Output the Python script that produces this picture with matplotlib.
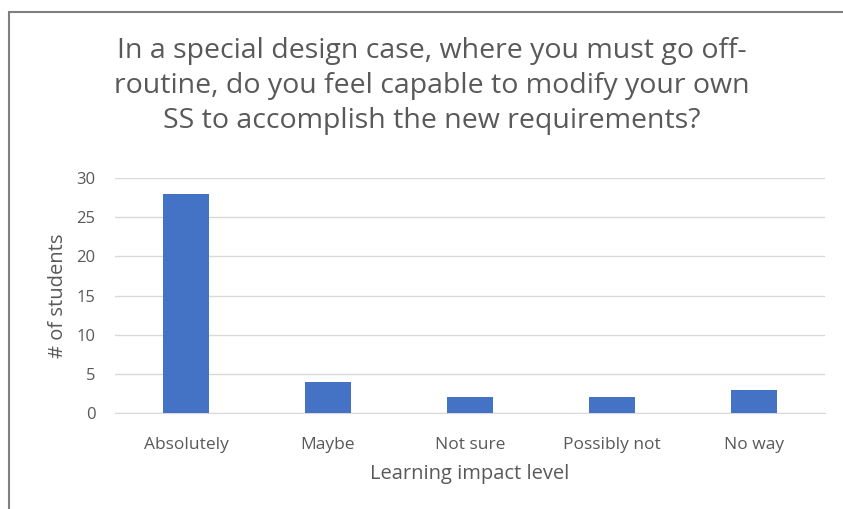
import matplotlib.pyplot as plt
from matplotlib.patches import Rectangle

categories = ["Absolutely", "Maybe", "Not sure", "Possibly not", "No way"]
students = [28, 4, 2, 2, 3]
y_ticks = [0, 5, 10, 15, 20, 25, 30]

title = ("In a special design case, where you must go off-\n"
         "routine, do you feel capable to modify your own\n"
         "SS to accomplish the new requirements?")

plt.rcParams['font.family'] = ['Open Sans', 'DejaVu Sans']
grey = '#595959'

fig = plt.figure(figsize=(8.43, 5.09), dpi=100)
ax = fig.add_axes([115/843, (509-413)/509, 710/843, 235/509])

x = range(len(categories))
ax.bar(x, students, width=0.32, color='#4472C4', zorder=3)
ax.set_xlim(-0.5, len(categories) - 0.5)
ax.set_ylim(0, 30)
ax.set_yticks(y_ticks)
ax.set_xticks(list(x))
ax.set_xticklabels(categories)

ax.grid(axis='y', color='#D9D9D9', linewidth=1, zorder=0)
for s in ['top', 'right', 'left']:
    ax.spines[s].set_visible(False)
ax.spines['bottom'].set_color('#D9D9D9')
ax.tick_params(axis='both', length=0, labelcolor=grey)
ax.tick_params(axis='x', labelsize=12.5, pad=17)
ax.tick_params(axis='y', labelsize=12, pad=14)

ax.set_xlabel("Learning impact level", fontsize=14.5, color=grey, labelpad=8)
ax.set_ylabel("# of students", fontsize=14.5, color=grey, labelpad=6)

fig.text(432/843, 1 - 86/509, title, ha='center', va='center',
         fontsize=20.5, color=grey, linespacing=1.32)

# chart border (runs off the right and bottom edge)
fig.patches.append(Rectangle((9/843, -0.1), 1.1, 1.1 - 12/509,
                             transform=fig.transFigure, fill=False,
                             edgecolor='#7F7F7F', linewidth=1.5))

fig.savefig('out.png', dpi=100)
